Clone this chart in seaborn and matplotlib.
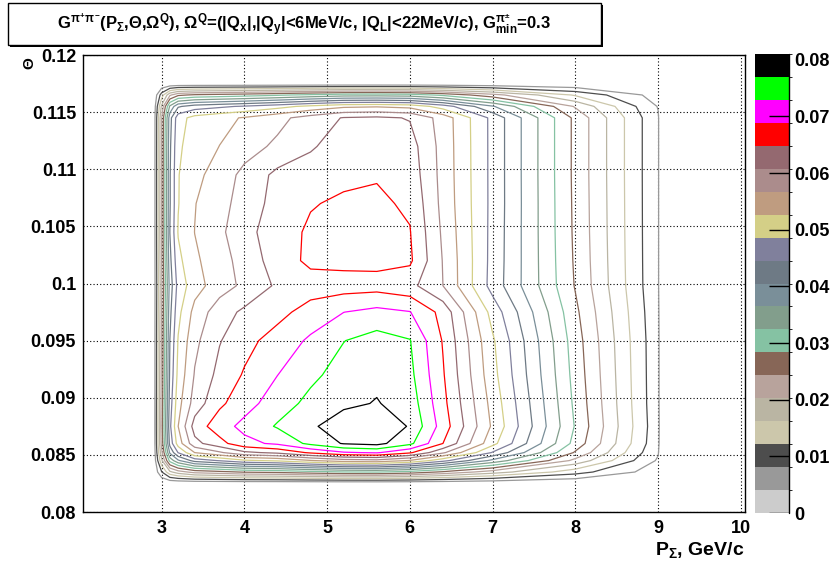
import numpy as np
import matplotlib
matplotlib.use("Agg")
import matplotlib.pyplot as plt
import seaborn as sns
from matplotlib.colors import ListedColormap, BoundaryNorm
from matplotlib.cm import ScalarMappable
from matplotlib.ticker import FixedLocator, MultipleLocator
from matplotlib.patches import Rectangle

sns.set_style("white")
plt.rcParams['font.family'] = ['Liberation Sans', 'DejaVu Sans']
plt.rcParams['font.weight'] = 'bold'
plt.rcParams['mathtext.fontset'] = 'custom'
plt.rcParams['mathtext.rm'] = 'Liberation Sans:bold'
plt.rcParams['mathtext.it'] = 'Liberation Sans:bold'
plt.rcParams['mathtext.bf'] = 'Liberation Sans:bold'
plt.rcParams['mathtext.sf'] = 'Liberation Sans:bold'
plt.rcParams['text.color'] = 'black'
plt.rcParams['axes.edgecolor'] = 'black'
plt.rcParams['xtick.color'] = 'black'
plt.rcParams['ytick.color'] = 'black'

# ---------------- data ----------------
# grid nodes along P_Sigma (GeV/c)
p_sum = [2.9, 3.0, 3.1, 3.2, 3.4, 3.7, 4.0, 4.4, 4.8, 5.2, 5.6, 6.0, 6.4, 7.0, 8.0, 9.0, 9.06]
# acceptance fall-off at the P_Sigma edges
p_edge = [0.0, 0.4, 0.78, 0.94, 1, 1, 1, 1, 1, 1, 1, 1, 1, 1, 1, 1, 0.0]
# grid nodes along Theta
theta = [0.0825, 0.0835, 0.0845, 0.0852, 0.086, 0.0875, 0.0895, 0.092, 0.095, 0.0975,
         0.0998, 0.102, 0.1045, 0.107, 0.1095, 0.112, 0.1145, 0.1155, 0.1165, 0.1175]
# acceptance fall-off at the Theta edges
theta_edge = [0.0, 0.35, 0.68, 0.85, 0.96, 1, 1, 1, 1, 1,
              1, 1, 1, 1, 1, 1, 1, 0.85, 0.5, 0.0]

# core G values along P_Sigma = 3.2 ... 9.0 for each Theta row
core_x = [3.2, 3.4, 3.7, 4.0, 4.4, 4.8, 5.2, 5.6, 6.0, 6.4, 7.0, 8.0, 9.0]
g_0860 = [0.056, 0.062, 0.066, 0.0705, 0.0725, 0.077, 0.0805, 0.0815, 0.077, 0.0675, 0.052, 0.028, 0.0052]
g_0875 = [0.056, 0.0625, 0.0671, 0.070, 0.0733, 0.0762, 0.0795, 0.081, 0.0765, 0.067, 0.052, 0.028, 0.0052]
g_0895 = [0.0545, 0.0585, 0.064, 0.0672, 0.071, 0.074, 0.076, 0.0772, 0.0752, 0.066, 0.0512, 0.0274, 0.005]
g_0920 = [0.053, 0.057, 0.062, 0.0652, 0.0688, 0.072, 0.0745, 0.076, 0.074, 0.0652, 0.050, 0.0268, 0.005]
g_0950 = [0.052, 0.0557, 0.0605, 0.0635, 0.0665, 0.0695, 0.0728, 0.0745, 0.0731, 0.0645, 0.0492, 0.0262, 0.005]
g_0975 = [0.0505, 0.054, 0.059, 0.0615, 0.0635, 0.0665, 0.0688, 0.070, 0.069, 0.0635, 0.047, 0.0252, 0.0048]
g_0998 = [0.049, 0.051, 0.0548, 0.0576, 0.0614, 0.0628, 0.063, 0.0632, 0.062, 0.0567, 0.043, 0.024, 0.0045]
g_1020 = [0.0505, 0.052, 0.0548, 0.0585, 0.0625, 0.0658, 0.066, 0.066, 0.0655, 0.0565, 0.0432, 0.0237, 0.0045]
g_1045 = [0.052, 0.0527, 0.0558, 0.0595, 0.0628, 0.0655, 0.0665, 0.0665, 0.065, 0.056, 0.0433, 0.0235, 0.0045]
g_1070 = [0.0515, 0.0525, 0.0552, 0.0585, 0.0622, 0.0645, 0.0655, 0.0655, 0.0642, 0.0555, 0.0434, 0.0234, 0.0045]
g_1095 = [0.0515, 0.0515, 0.0545, 0.0578, 0.0618, 0.063, 0.0638, 0.0645, 0.0632, 0.0553, 0.0434, 0.0233, 0.0045]
g_1120 = [0.051, 0.0505, 0.0527, 0.055, 0.0575, 0.0602, 0.063, 0.0638, 0.0625, 0.0552, 0.0434, 0.0233, 0.0045]
g_1145 = [0.050, 0.050, 0.0515, 0.053, 0.0555, 0.0585, 0.061, 0.0615, 0.0605, 0.055, 0.0434, 0.0233, 0.0045]

# which core row is used at every Theta node
row_of_theta = [g_0860, g_0860, g_0860, g_0860, g_0860, g_0875, g_0895, g_0920, g_0950, g_0975,
                g_0998, g_1020, g_1045, g_1070, g_1095, g_1120, g_1145, g_1145, g_1145, g_1145]

z_max = 0.081
n_bands = 20
band_colors = [
    (0.80, 0.80, 0.80), (0.60, 0.60, 0.60), (0.30, 0.30, 0.30), (0.80, 0.78, 0.67),
    (0.73, 0.71, 0.64), (0.72, 0.64, 0.61), (0.53, 0.40, 0.34), (0.52, 0.76, 0.64),
    (0.51, 0.62, 0.55), (0.48, 0.56, 0.60), (0.43, 0.48, 0.52), (0.50, 0.50, 0.61),
    (0.83, 0.81, 0.53), (0.75, 0.61, 0.50), (0.67, 0.55, 0.55), (0.58, 0.41, 0.44),
    (1.0, 0.0, 0.0), (1.0, 0.0, 1.0), (0.0, 1.0, 0.0), (0.0, 0.0, 0.0)]

x_ticks = [3, 4, 5, 6, 7, 8, 9, 10]
x_tick_labels = ["3", "4", "5", "6", "7", "8", "9", "10"]
y_ticks = [0.08, 0.085, 0.09, 0.095, 0.1, 0.105, 0.11, 0.115, 0.12]
y_tick_labels = ["0.08", "0.085", "0.09", "0.095", "0.1", "0.105", "0.11", "0.115", "0.12"]
cbar_ticks = [0, 0.01, 0.02, 0.03, 0.04, 0.05, 0.06, 0.07, 0.08]
cbar_labels = ["0", "0.01", "0.02", "0.03", "0.04", "0.05", "0.06", "0.07", "0.08"]

title_text = (r"G$^{\pi^{+}\pi^{-}}$(P$_{\Sigma}$,$\Theta$,$\Omega^{Q}$), $\Omega^{Q}$=(|Q$_{x}$|,|Q$_{y}$|<6MeV/c, "
              r"|Q$_{L}$|<22MeV/c), G$^{\pi^{\pm}}_{min}$=0.3")
x_label = r"P$_{\Sigma}$, GeV/c"
y_label = r"$\Theta$"

# ---------------- build table ----------------
core_table = []
for row in row_of_theta:
    full = [row[0]] * 3 + list(row) + [row[-1]]
    core_table.append(full)
core_table = np.array(core_table)
density = core_table * np.array(theta_edge)[:, None] * np.array(p_edge)[None, :]
P, T = np.meshgrid(p_sum, theta)

boundaries = np.linspace(0, z_max, n_bands + 1)
contour_levels = boundaries[1:n_bands]
line_colors = band_colors[1:n_bands]

# ---------------- figure ----------------
W, H = 839, 568
fig = plt.figure(figsize=(W / 100, H / 100), dpi=100)
fig.patch.set_facecolor('white')

ax = fig.add_axes([83 / W, (H - 512) / H, (745 - 83) / W, (512 - 55) / H])
ax.set_xlim(2.05, 10.05)
ax.set_ylim(0.08, 0.12)

ax.contour(P, T, density, levels=contour_levels, colors=line_colors, linewidths=0.9, zorder=3)

ax.xaxis.set_major_locator(FixedLocator(x_ticks))
ax.set_xticklabels(x_tick_labels)
ax.xaxis.set_minor_locator(MultipleLocator(0.2))
ax.yaxis.set_major_locator(FixedLocator(y_ticks))
ax.set_yticklabels(y_tick_labels)
ax.yaxis.set_minor_locator(MultipleLocator(0.001))
ax.tick_params(which='both', direction='in', top=False, right=False, width=1)
ax.tick_params(which='major', length=9, labelsize=13, pad=5)
ax.tick_params(which='minor', length=5)
ax.tick_params(axis='x', which='major', pad=6)
for lab in ax.get_xticklabels() + ax.get_yticklabels():
    lab.set_fontweight('bold')
ax.grid(True, which='major', color='black', linestyle=(0, (1, 2)), linewidth=0.8)
ax.set_axisbelow(True)
for sp in ax.spines.values():
    sp.set_visible(True)
    sp.set_color('black')
    sp.set_linewidth(1)

fig.text(744 / W, 1 - 555 / H, x_label, ha='right', va='baseline', fontsize=14, fontweight='bold')
fig.text(30 / W, 1 - 63 / H, y_label, ha='center', va='center', rotation=90, fontsize=11,
         fontweight='normal')

# colour bar
cax = fig.add_axes([755 / W, (H - 513) / H, 34 / W, (513 - 54) / H])
cmap = ListedColormap(band_colors)
norm = BoundaryNorm(boundaries, cmap.N)
sm = ScalarMappable(norm=norm, cmap=cmap)
cb = fig.colorbar(sm, cax=cax, ticks=cbar_ticks, spacing='proportional')
cb.outline.set_visible(False)
cb.ax.set_yticklabels(cbar_labels)
cb.ax.tick_params(direction='in', length=0, width=1, labelsize=13, pad=4, color='black')
for lab in cb.ax.get_yticklabels():
    lab.set_fontweight('bold')
cb.ax.hlines(cbar_ticks, 0.41, 1.0, transform=cb.ax.get_yaxis_transform(),
             colors='black', linewidth=1, zorder=5)
cb.ax.plot([1, 1], [0, 1], transform=cb.ax.transAxes, color='black', lw=1, clip_on=False, zorder=5)

# title box with shadow
fig.add_artist(Rectangle((10 / W, 1 - 47 / H), (601 - 8) / W, (45 - 3) / H,
                         transform=fig.transFigure, facecolor='black', edgecolor='black', lw=0))
fig.add_artist(Rectangle((8 / W, 1 - 45 / H), (601 - 8) / W, (45 - 3) / H,
                         transform=fig.transFigure, facecolor='white', edgecolor='black', lw=1))
fig.text(304 / W, 1 - 25 / H, title_text, ha='center', va='center', fontsize=12, fontweight='bold')

fig.savefig("out.png", dpi=100)
